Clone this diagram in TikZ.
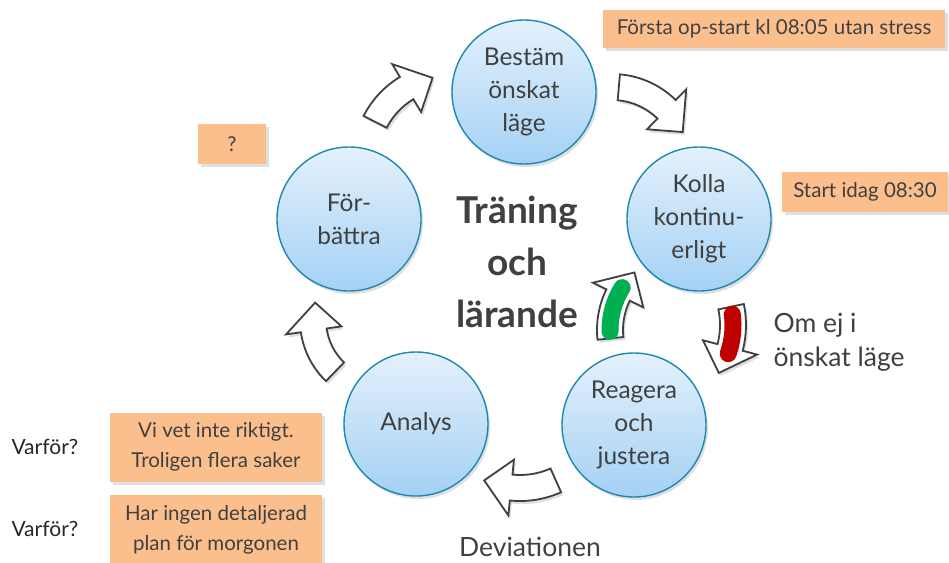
\documentclass[tikz,border=0pt]{standalone}
\usepackage{fontspec}
\setmainfont{Lato}
\usetikzlibrary{positioning, shadows}

\definecolor{inkgray}{RGB}{64,64,64}
\definecolor{ringblue}{RGB}{30,136,174}
\definecolor{phasetop}{RGB}{228,241,252}
\definecolor{phasebottom}{RGB}{164,209,244}
\definecolor{memoorange}{RGB}{250,191,141}
\definecolor{gogreen}{RGB}{0,176,80}
\definecolor{stopred}{RGB}{192,0,0}

\begin{document}
\begin{tikzpicture}[
    x=1pt, y=-1pt,
    phase/.style={circle, draw=ringblue, line width=1.4pt, minimum size=144pt, inner sep=0pt, align=center,
        top color=phasetop, bottom color=phasebottom, text=inkgray, font=\fontsize{24.5}{33}\selectfont,
        drop shadow={opacity=0.25, shadow xshift=2pt, shadow yshift=-3pt}},
    memo/.style={fill=memoorange, align=center, inner sep=0pt, text=inkgray, font=\fontsize{20.5}{30}\selectfont,
        drop shadow={opacity=0.25, shadow xshift=3pt, shadow yshift=-3pt}},
    why/.style={text=black!85, font=\fontsize{21}{24}\selectfont},
    remark/.style={text=inkgray, align=left, font=\fontsize{26.5}{34}\selectfont},
    theme/.style={text=inkgray, align=center, font=\fontsize{37}{52}\selectfont\bfseries},
    arrowbody/.style={fill=white, draw=inkgray, line width=1.8pt,
        drop shadow={opacity=0.25, shadow xshift=2pt, shadow yshift=-3pt}},
    signal/.style={line width=17pt, line cap=round},
    pics/bend arrow/.style args={#1/#2/#3}{code={
        \pgfmathsetmacro\headang{#3-28/#1*180/pi}
        \pgfmathsetmacro\rin{#1-13}
        \pgfmathsetmacro\rout{#1+13}
        \pgfmathsetmacro\win{#1-28}
        \pgfmathsetmacro\wout{#1+28}
        \draw[arrowbody] (#2:\rin) arc[start angle=#2, end angle=\headang, radius=\rin]
            -- (\headang:\win) -- (#3:#1) -- (\headang:\wout) -- (\headang:\rout)
            arc[start angle=\headang, end angle=#2, radius=\rout] -- cycle;
    }}
]
    \useasboundingbox (0,0) rectangle (949,562);

    % Cycle arrows
    \pic at (450,160) {bend arrow=84/207/258};
    \pic at (612,165) {bend arrow=78/275/335};
    \pic at (385,320) {bend arrow=72/134/194};
    \pic at (520,400) {bend arrow=88/66/114};
    \pic at (690,330) {bend arrow=80/174/226};
    \pic at (645,325) {bend arrow=88/-12/33};
    \draw[signal, gogreen, shift={(690,330)}] (179:80) arc[start angle=179, end angle=212, radius=80];
    \draw[signal, stopred, shift={(645,325)}] (-7:88) arc[start angle=-7, end angle=19, radius=88];

    % Phases
    \node[phase] (bestam) at (524,92) {Bestäm\\önskat\\läge};
    \node[phase] (kolla) at (699,219) {Kolla\\kontinu-\\erligt};
    \node[phase] (reagera) at (634,425) {Reagera\\och\\justera};
    \node[phase] (analys) at (416,424) {Analys};
    \node[phase] (forbattra) at (349,219) {För-\\bättra};

    \node[theme] (larande) at (517,262) {Träning\\och\\lärande};

    % Notes
    \node[memo, minimum width=342pt, minimum height=38pt] (forsta) at (774,29) {Första op-start kl 08:05 utan stress};
    \node[memo, minimum width=166pt, minimum height=40pt] (startidag) at (865,192) {Start idag 08:30};
    \node[memo, minimum width=68pt, minimum height=40pt] (fraga) at (232,144) {?};
    \node[memo, minimum width=212pt, minimum height=69pt] (vivet) at (216,447) {Vi vet inte riktigt.\\Troligen flera saker};
    \node[memo, minimum width=212pt, minimum height=69pt, below=13pt of vivet] (plan) {Har ingen detaljerad\\plan för morgonen};

    \node[why, left=28pt of vivet] (varfor1) {Varför?};
    \node[why, left=28pt of plan] (varfor2) {Varför?};

    \node[remark, anchor=west] (omej) at (770,342) {Om ej i\\önskat läge};
    \node[remark, inner sep=1pt] (deviation) at (530,547) {Deviationen};
\end{tikzpicture}
\end{document}
